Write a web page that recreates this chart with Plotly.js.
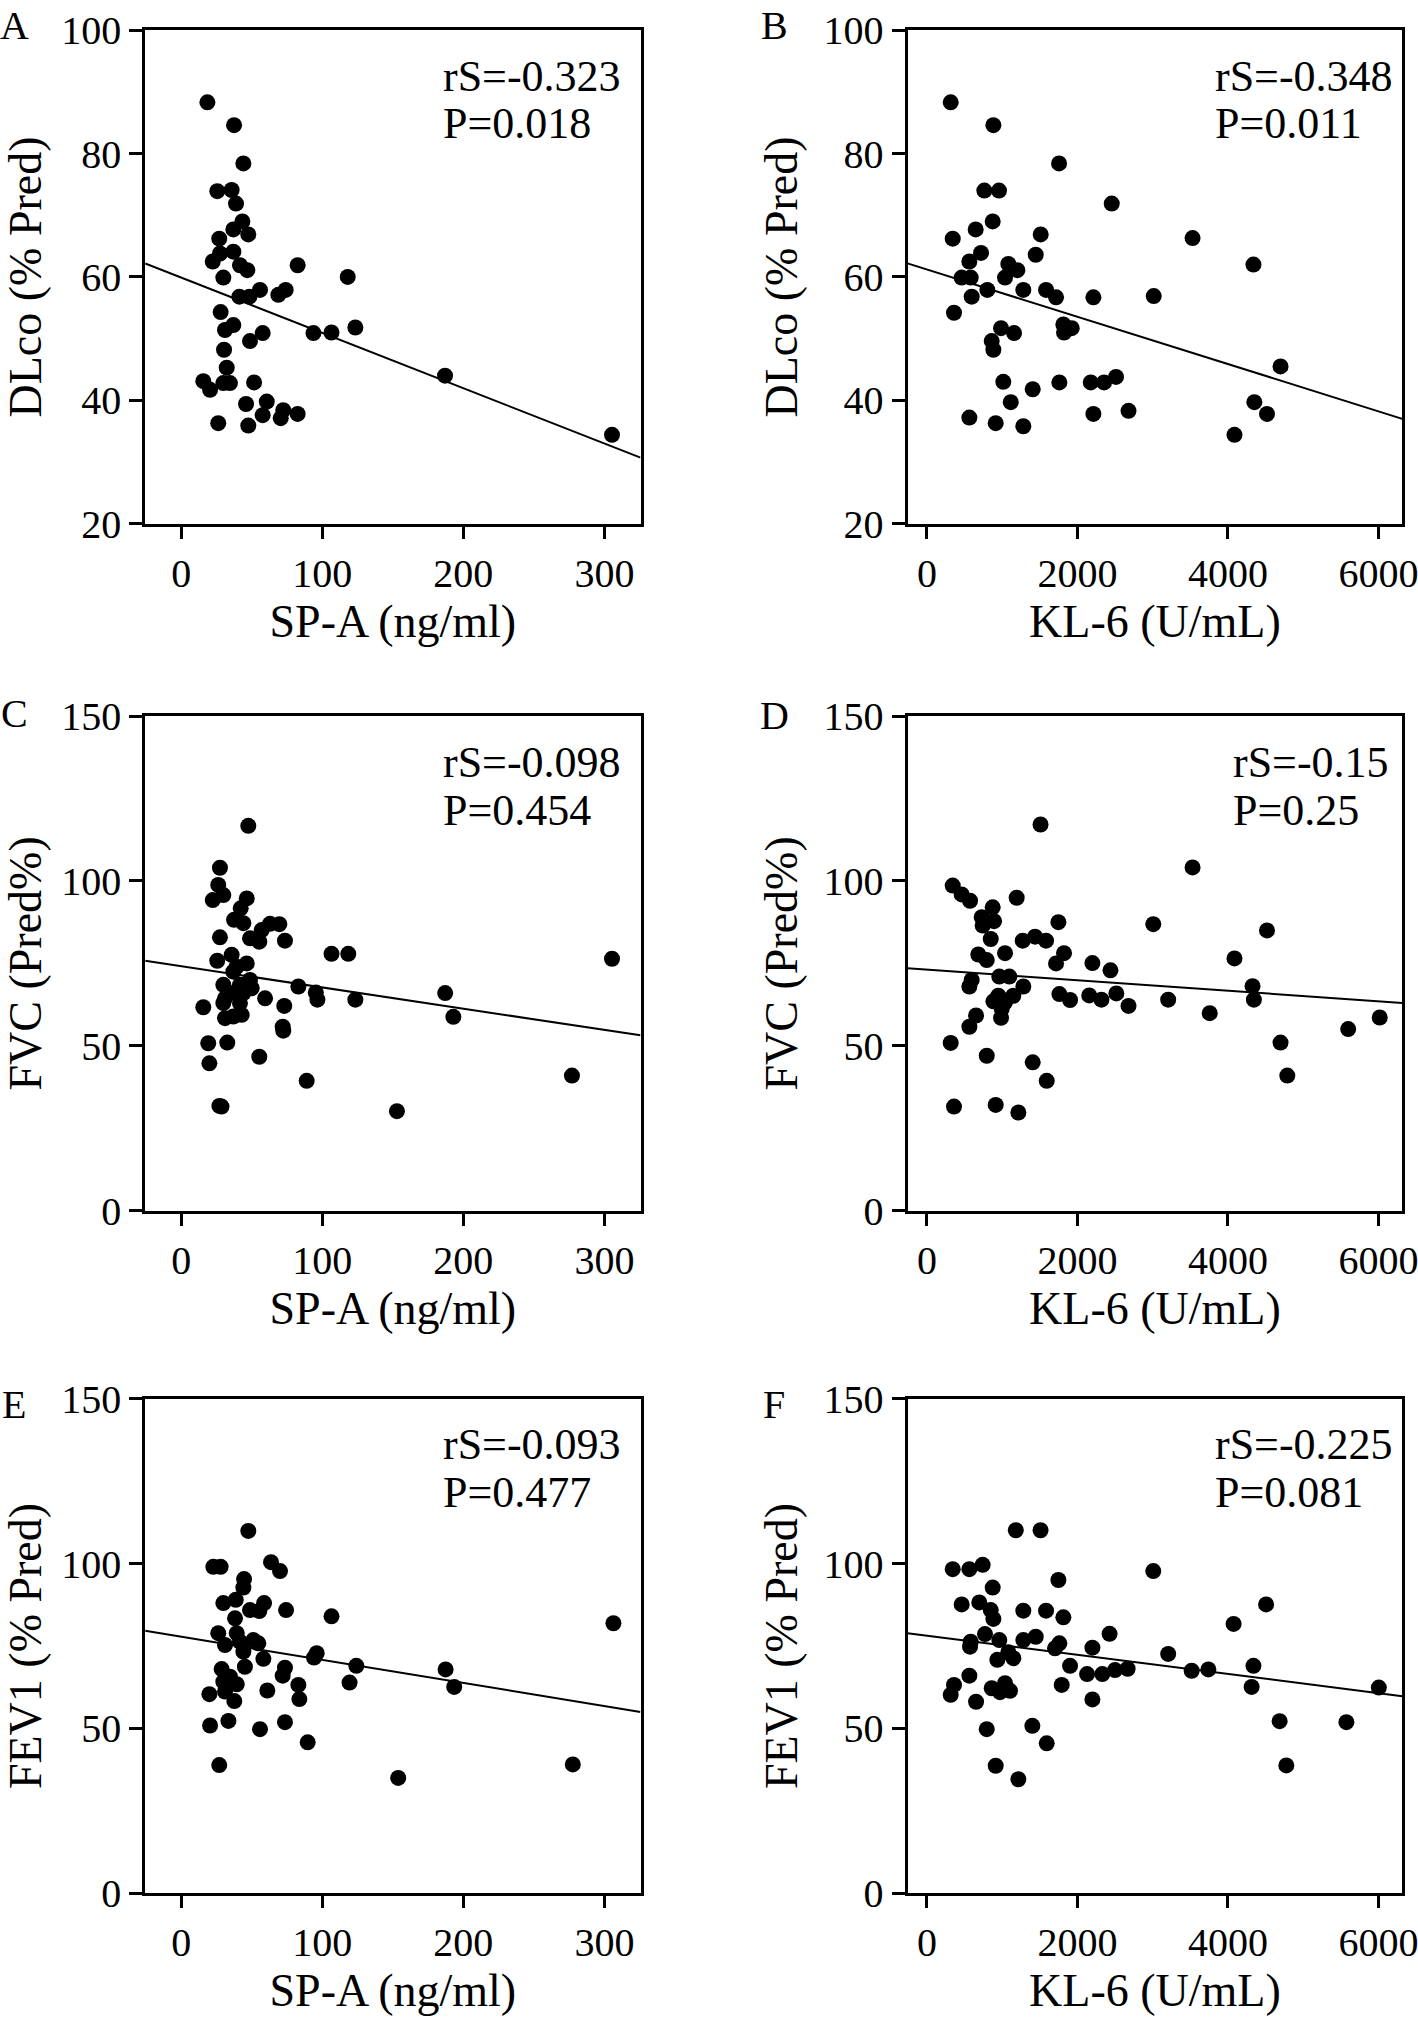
<!DOCTYPE html>
<html>
<head>
<meta charset="utf-8">
<script src="https://cdn.plot.ly/plotly-3.0.1.min.js"></script>
<style>html,body{margin:0;padding:0;background:#fff;}</style>
</head>
<body>
<div id="chart" style="width:1418px;height:2019px;"></div>
<script>
// ---------- DATA ----------
// Panel A: SP-A vs DLco
const spaDlcoX = [18.5,37.4,44.0,25.5,35.7,38.8,43.3,36.9,47.5,26.9,27.4,36.9,22.3,41.6,46.8,29.8,82.5,41.2,48.3,55.8,68.8,74.0,93.7,106.5,123.4,118.0,27.9,36.9,31.0,57.7,48.7,30.3,32.2,15.6,20.4,29.8,34.5,51.6,187.0,45.9,60.6,57.7,72.3,70.5,82.5,26.2,47.5,305.4];
const spaDlcoY = [88.3,84.6,78.4,73.9,74.1,71.9,69.0,67.7,66.9,66.2,63.8,64.1,62.5,61.9,61.1,59.9,61.9,56.8,56.8,57.9,57.1,57.9,50.9,51.0,51.8,60.0,54.3,52.2,51.4,50.9,49.6,48.2,45.3,43.1,41.7,42.8,42.8,42.9,44.0,39.4,39.8,37.6,38.4,37.1,37.8,36.3,35.9,34.4];
// Panel B: KL-6 vs DLco
const klDlcoX = [316,883,1756,763,958,2456,874,648,1512,343,719,1446,564,1082,1202,1038,462,582,595,803,1281,1583,1716,2212,360,1813,1924,1822,985,1158,861,883,1015,1406,1760,2177,2354,2513,1114,564,914,1281,2212,3530,4339,3014,2679,4087,4351,4519,4699];
const klDlcoY = [88.3,84.6,78.4,74.0,74.0,71.9,69.0,67.7,66.9,66.2,63.9,63.6,62.5,62.1,61.1,59.9,59.9,59.9,56.8,57.9,57.9,57.9,56.7,56.7,54.2,52.3,51.7,51.0,51.7,50.9,49.6,48.2,43.0,41.8,42.9,42.9,42.9,43.8,39.7,37.2,36.3,35.8,37.8,66.3,62.0,56.9,38.3,34.4,39.7,37.8,45.5];
// Panel C: SP-A vs FVC
const spaFvcX = [47.5,27.4,26.2,29.8,22.3,46.4,42.1,37.4,44.0,62.9,69.5,57.0,27.4,48.7,55.3,73.5,35.7,25.5,46.4,39.3,36.9,48.7,29.8,41.6,34.5,31.0,44.0,41.6,49.9,59.4,29.8,31.0,36.9,42.8,83.0,95.4,96.5,73.0,15.6,71.9,72.3,19.1,32.6,19.9,55.3,88.9,27.0,28.5,106.5,118.4,123.4,187.1,192.9,152.9,277.0,305.4];
const spaFvcY = [116.7,104.0,98.8,95.7,94.2,94.7,91.7,88.2,87.2,87.0,86.9,85.1,82.9,82.6,81.6,81.9,77.6,75.8,75.0,74.0,72.5,70.0,68.5,68.5,66.0,64.4,66.0,62.9,67.5,64.4,63.0,58.4,58.9,59.4,68.0,66.2,64.0,62.1,61.7,55.8,54.6,50.8,51.0,44.7,46.7,39.4,31.8,31.6,77.9,77.9,64.0,66.0,58.8,30.2,41.0,76.4];
// Panel D: KL-6 vs FVC
const klFvcX = [343,462,573,1193,874,728,892,741,1747,848,1273,1437,1583,683,795,1038,1822,1716,962,1095,595,564,1281,949,1148,883,1038,994,1760,1902,653,985,564,316,795,1406,1592,360,914,1215,1510,3008,3530,4519,4087,4327,4345,3758,3206,2679,2517,2319,2157,2439,2199,4699,4789,5598,6017];
const klFvcY = [98.6,95.9,94.0,94.9,92.0,89.0,87.8,86.5,87.5,82.4,81.9,83.1,81.9,77.7,76.0,78.1,78.1,75.0,71.0,71.0,70.0,68.0,68.0,65.2,65.2,63.5,63.2,61.2,65.7,63.9,59.2,58.5,55.8,50.9,47.0,45.0,39.4,31.6,32.1,29.8,117.1,86.9,104.1,85.0,76.5,68.1,64.0,59.9,64.0,62.1,65.9,64.0,65.3,72.9,75.1,51.0,41.0,55.1,58.6];
// Panel E: SP-A vs FEV1
const spaFev1X = [47.5,22.7,27.9,63.6,70.0,44.5,44.0,29.8,38.6,48.7,58.7,55.3,74.3,38.1,26.2,39.3,31.0,41.6,51.1,54.6,44.0,58.2,96.0,94.1,45.1,28.6,73.5,71.9,34.5,29.8,39.3,83.0,31.0,19.9,61.0,83.7,37.6,33.4,20.4,55.8,73.5,89.6,26.9,106.5,119.3,124.1,187.4,193.5,153.8,277.6,306.4];
const spaFev1Y = [109.9,99.0,99.0,100.4,97.7,95.3,92.7,88.0,89.0,85.9,88.0,85.6,85.9,83.4,78.9,78.9,75.3,76.3,76.8,75.8,73.3,71.1,72.8,71.5,68.7,68.0,68.4,66.0,65.7,64.2,63.4,63.2,61.2,60.4,61.5,58.9,58.3,52.3,50.9,49.8,51.9,45.8,38.9,84.0,63.9,69.0,67.9,62.6,35.0,39.1,81.9];
// Panel F: KL-6 vs FEV1
const klFev1X = [343,564,741,1747,874,462,696,848,883,1281,1583,1813,582,573,772,962,1281,1446,1760,1702,1082,936,1148,1902,564,360,316,861,1038,971,1104,1791,653,795,1401,1592,914,1215,1181,1510,2199,2128,2199,2331,2427,2499,2667,3008,3206,3518,3740,4075,4339,4315,4507,4687,4776,5574,6005];
const klFev1Y = [98.3,98.3,99.6,95.0,92.7,87.6,88.2,85.9,83.2,85.7,85.7,83.7,76.3,74.8,78.6,76.8,76.8,77.8,75.8,74.3,73.1,70.8,71.3,69.0,66.0,63.2,60.2,62.2,63.7,61.0,61.4,63.2,58.1,49.8,50.8,45.5,38.7,34.6,110.1,110.1,74.5,66.5,58.8,66.5,78.7,67.7,68.1,97.7,72.6,67.5,67.9,81.7,69.0,62.6,87.6,52.2,38.8,51.9,62.4];

// Fitted regression lines (end points)
const fitSpaDlcoX = [-25.6, 325.6], fitSpaDlcoY = [62.2, 30.7];
const fitKlDlcoX  = [-258, 6317],   fitKlDlcoY  = [62.2, 37.0];
const fitSpaFvcX  = [-25.6, 325.6], fitSpaFvcY  = [75.8, 53.2];
const fitKlFvcX   = [-258, 6317],   fitKlFvcY   = [73.5, 63.0];
const fitSpaFev1X = [-25.6, 325.6], fitSpaFev1Y = [79.6, 55.0];
const fitKlFev1X  = [-258, 6317],   fitKlFev1Y  = [78.9, 59.8];

// Axis ranges / ticks
const spaRange = [-25.6, 325.6], klRange = [-258, 6317];
const dlcoRange = [20, 100], pctRange = [0, 150];
const spaDtick = 100, klDtick = 2000, dlcoDtick = 20, pctDtick = 50;

// Labels
const panelLetters = ['A','B','C','D','E','F'];
const rsTexts = ['rS=-0.323','rS=-0.348','rS=-0.098','rS=-0.15','rS=-0.093','rS=-0.225'];
const pTexts  = ['P=0.018','P=0.011','P=0.454','P=0.25','P=0.477','P=0.081'];
const xTitles = ['SP-A (ng/ml)','KL-6 (U/mL)'];
const yTitles = ['DLco (% Pred)','FVC (Pred%)','FEV1 (% Pred)'];

// ---------- LAYOUT ----------
const W = 1418, H = 2019;
const FONT = 'Liberation Serif, Times New Roman, serif';
const colDom = [[145.2/W, 640.5/W], [907.5/W, 1402.3/W]];
const rowDom = [[1-523.7/H, 1-30.2/H], [1-1210.8/H, 1-716/H], [1-1893.4/H, 1-1398.6/H]];

const panels = [
  {x: spaDlcoX, y: spaDlcoY, fx: fitSpaDlcoX, fy: fitSpaDlcoY, col:0, row:0},
  {x: klDlcoX,  y: klDlcoY,  fx: fitKlDlcoX,  fy: fitKlDlcoY,  col:1, row:0},
  {x: spaFvcX,  y: spaFvcY,  fx: fitSpaFvcX,  fy: fitSpaFvcY,  col:0, row:1},
  {x: klFvcX,   y: klFvcY,   fx: fitKlFvcX,   fy: fitKlFvcY,   col:1, row:1},
  {x: spaFev1X, y: spaFev1Y, fx: fitSpaFev1X, fy: fitSpaFev1Y, col:0, row:2},
  {x: klFev1X,  y: klFev1Y,  fx: fitKlFev1X,  fy: fitKlFev1Y,  col:1, row:2}
];
const rsX = [0.598, 0.618, 0.598, 0.654, 0.598, 0.618];
// letter centre x and text-box top y (px)
const letterPos = [[14,1],[774,1],[14,689],[774,691],[14,1380],[774,1380]];

const traces = [];
const layout = {
  width: W, height: H,
  margin: {l:0, r:0, t:0, b:0},
  paper_bgcolor: '#fff', plot_bgcolor: '#fff',
  showlegend: false,
  font: {family: FONT, color: '#000'},
  annotations: []
};

panels.forEach((p, i) => {
  const n = i + 1;
  const xa = n === 1 ? 'x' : 'x' + n;
  const ya = n === 1 ? 'y' : 'y' + n;
  traces.push({
    type: 'scatter', mode: 'markers', x: p.x, y: p.y, xaxis: xa, yaxis: ya,
    marker: {color: '#000', size: 16, line: {width: 0}}, hoverinfo: 'x+y'
  });
  traces.push({
    type: 'scatter', mode: 'lines', x: p.fx, y: p.fy, xaxis: xa, yaxis: ya,
    line: {color: '#000', width: 2}, hoverinfo: 'skip'
  });
  const isKL = p.col === 1;
  layout['xaxis' + (n === 1 ? '' : n)] = {
    domain: colDom[p.col], anchor: ya,
    range: isKL ? klRange : spaRange,
    tickmode: 'linear', tick0: 0, dtick: isKL ? klDtick : spaDtick,
    showline: true, mirror: true, linecolor: '#000', linewidth: 3,
    ticks: 'outside', ticklen: 12, tickwidth: 3, tickcolor: '#000',
    ticklabeloverflow: 'allow',
    showgrid: false, zeroline: false, fixedrange: true,
    tickfont: {family: FONT, size: 40, color: '#000'},
    title: {text: xTitles[p.col], font: {family: FONT, size: 46, color: '#000'}, standoff: 10}
  };
  const isD = p.row === 0;
  layout['yaxis' + (n === 1 ? '' : n)] = {
    domain: rowDom[p.row], anchor: xa,
    range: isD ? dlcoRange : pctRange,
    tickmode: 'linear', tick0: 0, dtick: isD ? dlcoDtick : pctDtick,
    showline: true, mirror: true, linecolor: '#000', linewidth: 3,
    ticks: 'outside', ticklen: 13, tickwidth: 3, tickcolor: '#000',
    showgrid: false, zeroline: false, fixedrange: true,
    tickfont: {family: FONT, size: 40, color: '#000'},
    title: {text: yTitles[p.row], font: {family: FONT, size: 46, color: '#000'}, standoff: 12}
  };
  layout.annotations.push({
    xref: xa + ' domain', yref: ya + ' domain', x: rsX[i], y: 0.907,
    xanchor: 'left', yanchor: 'middle', showarrow: false,
    text: rsTexts[i], font: {family: FONT, size: 44, color: '#000'}
  });
  layout.annotations.push({
    xref: xa + ' domain', yref: ya + ' domain', x: rsX[i], y: 0.810,
    xanchor: 'left', yanchor: 'middle', showarrow: false,
    text: pTexts[i], font: {family: FONT, size: 44, color: '#000'}
  });
  layout.annotations.push({
    xref: 'paper', yref: 'paper', x: letterPos[i][0] / W, y: 1 - letterPos[i][1] / H,
    xanchor: 'center', yanchor: 'top', showarrow: false,
    text: panelLetters[i], font: {family: FONT, size: 40, color: '#000'}
  });
});

Plotly.newPlot('chart', traces, layout, {staticPlot: true, displayModeBar: false});
</script>
</body>
</html>
